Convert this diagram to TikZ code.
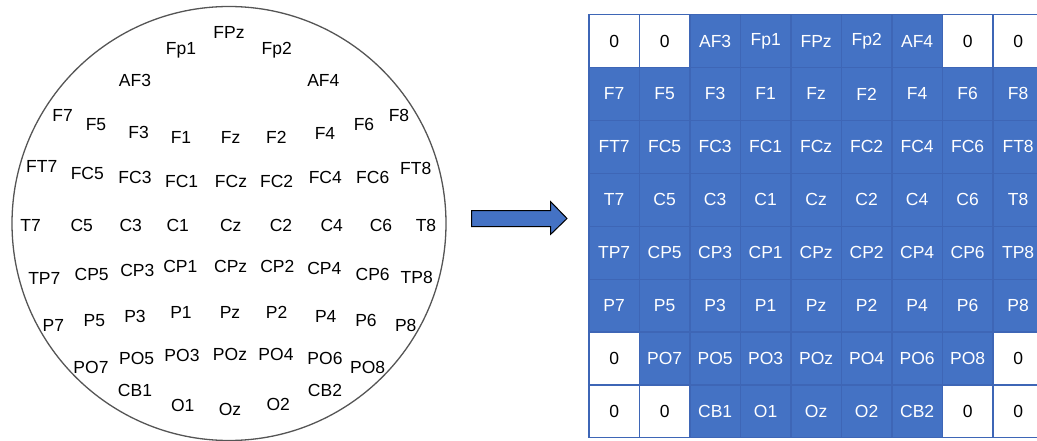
\documentclass[tikz,border=0pt]{standalone}
\usepackage{fontspec}
\setmainfont{Liberation Sans}
\definecolor{cellblue}{RGB}{68,114,196}
\definecolor{gridline}{RGB}{62,102,182}
\definecolor{headline}{RGB}{85,85,85}
\begin{document}
\begin{tikzpicture}[x=1pt,y=-1pt,
  lab/.style={font=\fontsize{17.5}{20}\selectfont, inner sep=0pt},
  elec/.style={lab, text=black},
  cell/.style={lab, draw=gridline, line width=1.2pt, minimum width=50.5pt,
    minimum height=52.9pt, anchor=north west},
  bluecell/.style={cell, fill=cellblue, text=white},
  zerocell/.style={cell, fill=white, text=black}]
\useasboundingbox (0,0) rectangle (1037,441);

% scalp outline
\node[draw=headline, line width=1.3pt, circle, minimum size=434pt, inner sep=0pt] (head) at (229,223.5) {};

% electrode labels on the scalp
\foreach \n/\x/\y in {
  FPz/229/32.3, Fp1/181/50.7, Fp2/276.7/50.7, AF3/135/80.7, AF4/323.3/80.7,
  F7/62.7/115.7, F5/96/125, F3/138.7/132.3, F1/181/137.3, Fz/230.7/137.3,
  F2/276.3/137.3, F4/325/133.3, F6/364/124, F8/399/115,
  FT7/41.7/166.7, FC5/87.3/173.3, FC3/135/177.3, FC1/181.7/181.7, FCz/231/181.7,
  FC2/276.7/181.7, FC4/325.3/177.3, FC6/372.7/177.3, FT8/415.7/168.3,
  T7/30.7/225.7, C5/81.7/225.7, C3/130.7/225.7, C1/177.7/225.7, Cz/230.7/225.7,
  C2/281/225.7, C4/331.7/225.7, C6/381/225.7, T8/426/225.7,
  TP7/44.3/278.3, CP5/91.7/274.3, CP3/137.3/270.7, CP1/180.3/266, CPz/230.7/266,
  CP2/277.3/266, CP4/324.3/268.3, CP6/372.7/274.3, TP8/416.7/277.3,
  P7/53.3/325.7, P5/94.3/320.7, P3/135/316.7, P1/181/312.7, Pz/230/312.7,
  P2/276.7/312.7, P4/325.7/316, P6/366/320.7, P8/405.7/325.7,
  PO7/91/367.7, PO5/136.7/358.3, PO3/182/355, POz/230/354.3, PO4/276/354.3,
  PO6/325/358.3, PO8/367.7/367.7,
  CB1/135/390.7, O1/182.7/405, Oz/230/409, O2/278.3/404.3, CB2/325/390.7}
  \node[elec] (e-\n) at (\x,\y) {\n};

% mapping arrow
\draw[fill=cellblue, draw=black, line width=1pt, line join=miter]
  (471.7,210.7) -- (550.7,210.7) -- (550.7,201.7) -- (567,218.5)
  -- (550.7,234.3) -- (550.7,226.7) -- (471.7,226.7) -- cycle;

% 8 x 9 electrode matrix
\def\zerolab{0}
\foreach \row [count=\r from 0] in {
  {0,0,AF3,Fp1,FPz,Fp2,AF4,0,0},
  {F7,F5,F3,F1,Fz,F2,F4,F6,F8},
  {FT7,FC5,FC3,FC1,FCz,FC2,FC4,FC6,FT8},
  {T7,C5,C3,C1,Cz,C2,C4,C6,T8},
  {TP7,CP5,CP3,CP1,CPz,CP2,CP4,CP6,TP8},
  {P7,P5,P3,P1,Pz,P2,P4,P6,P8},
  {0,PO7,PO5,PO3,POz,PO4,PO6,PO8,0},
  {0,0,CB1,O1,Oz,O2,CB2,0,0}}
{
  \foreach \lab [count=\c from 0] in \row {
    \edef\curlab{\lab}
    \ifx\curlab\zerolab
      \node[zerocell] (g-\r-\c) at (588.3+50.5*\c, 14+52.9*\r) {\lab};
    \else
      \node[bluecell] (g-\r-\c) at (588.3+50.5*\c, 14+52.9*\r) {\lab};
    \fi
  }
}
\end{tikzpicture}
\end{document}
